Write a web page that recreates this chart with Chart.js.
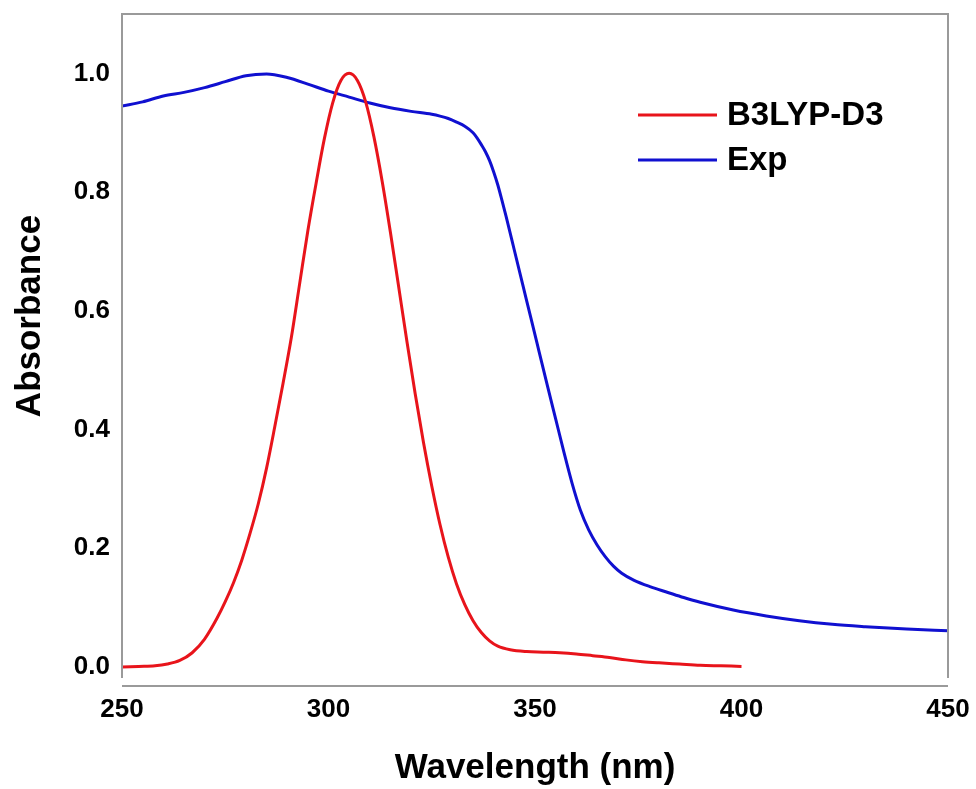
<!DOCTYPE html>
<html>
<head>
<meta charset="utf-8">
<script src="https://cdn.jsdelivr.net/npm/chart.js@4.4.1/dist/chart.umd.min.js"></script>
<style>
  html, body { margin: 0; padding: 0; background: #ffffff; }
  #wrap { width: 976px; height: 789px; }
</style>
</head>
<body>
<div id="wrap"><canvas id="chart" width="976" height="789"></canvas></div>
<script>
// data
const calcLabel = 'B3LYP-D3';
const calcX = [250, 254, 258, 261, 264, 267, 270, 273, 275, 277, 279, 281, 283, 285, 287, 289, 291, 293, 295, 297,
               299, 301, 303, 305, 307, 309, 311, 313, 315, 317, 319, 321, 323, 325, 327, 329, 331, 333, 335, 337,
               339, 341, 344, 348, 352, 356, 360, 364, 368, 372, 376, 380, 385, 390, 395, 400];
const calcY = [0.000, 0.001, 0.002, 0.005, 0.011, 0.024, 0.047, 0.082, 0.110, 0.142, 0.180, 0.225, 0.275, 0.335, 0.405, 0.478, 0.555, 0.645, 0.735, 0.815,
               0.890, 0.950, 0.988, 1.000, 0.988, 0.952, 0.893, 0.818, 0.732, 0.640, 0.548, 0.460, 0.378, 0.305, 0.240, 0.185, 0.140, 0.105, 0.078, 0.058,
               0.044, 0.035, 0.029, 0.026, 0.025, 0.024, 0.022, 0.019, 0.016, 0.012, 0.009, 0.007, 0.005, 0.003, 0.002, 0.001];

const expLabel = 'Exp';
const expX = [250, 255, 260, 265, 270, 275, 280, 285, 290, 295, 300, 305, 310, 315, 320, 325, 327, 329, 331, 333,
              335, 336, 337, 338, 339, 340, 341, 342, 343, 345, 347, 349, 351, 353, 355, 357, 359, 361, 363, 365,
              367, 369, 371, 374, 378, 382, 386, 390, 398, 406, 414, 422, 430, 440, 450];
const expY = [0.945, 0.952, 0.962, 0.968, 0.976, 0.986, 0.996, 0.999, 0.993, 0.982, 0.970, 0.960, 0.950, 0.942, 0.936, 0.931, 0.928, 0.924, 0.918, 0.911,
              0.900, 0.891, 0.880, 0.868, 0.853, 0.834, 0.812, 0.786, 0.759, 0.702, 0.645, 0.588, 0.531, 0.474, 0.418, 0.362, 0.309, 0.264, 0.231, 0.206,
              0.186, 0.170, 0.158, 0.146, 0.135, 0.126, 0.117, 0.109, 0.096, 0.086, 0.078, 0.072, 0.068, 0.064, 0.061];

const xTicks = [250, 300, 350, 400, 450];
const yTicks = [0.0, 0.2, 0.4, 0.6, 0.8, 1.0];

const FONT = 'Arial, "Liberation Sans", sans-serif';

function toPoints(xs, ys) {
    return xs.map((x, i) => ({ x: x, y: ys[i] }));
}

// frame around the plot, y title and legend
const framePlugin = {
    id: 'frame',
    afterDraw(chart) {
        const { ctx, chartArea: a } = chart;
        ctx.save();
        ctx.strokeStyle = '#9a9a9a';
        ctx.lineWidth = 2;
        ctx.beginPath();
        ctx.moveTo(a.left, a.bottom - 8);
        ctx.lineTo(a.left, a.top);
        ctx.lineTo(a.right, a.top);
        ctx.lineTo(a.right, a.bottom - 8);
        ctx.stroke();
        ctx.beginPath();
        ctx.moveTo(a.left, a.bottom);
        ctx.lineTo(a.right, a.bottom);
        ctx.stroke();

        // y axis title
        ctx.save();
        ctx.translate(30, 316);
        ctx.rotate(-Math.PI / 2);
        ctx.font = 'bold 35px ' + FONT;
        ctx.fillStyle = '#000000';
        ctx.textAlign = 'center';
        ctx.textBaseline = 'middle';
        ctx.fillText('Absorbance', 0, 0);
        ctx.restore();

        // legend
        ctx.font = 'bold 33px ' + FONT;
        ctx.textBaseline = 'middle';
        ctx.fillStyle = '#000000';
        chart.data.datasets.forEach((ds, i) => {
            const y = 115 + i * 45;
            ctx.strokeStyle = ds.borderColor;
            ctx.lineWidth = 3;
            ctx.beginPath();
            ctx.moveTo(638, y);
            ctx.lineTo(717, y);
            ctx.stroke();
            ctx.fillText(ds.label, 727, y + 1);
        });
        ctx.restore();
    }
};

const ctx = document.getElementById('chart').getContext('2d');
new Chart(ctx, {
    type: 'line',
    data: {
        datasets: [
            {
                label: calcLabel,
                data: toPoints(calcX, calcY),
                borderColor: '#e8141b',
                borderWidth: 3,
                pointRadius: 0,
                cubicInterpolationMode: 'monotone',
                fill: false
            },
            {
                label: expLabel,
                data: toPoints(expX, expY),
                borderColor: '#1010d0',
                borderWidth: 3,
                pointRadius: 0,
                cubicInterpolationMode: 'monotone',
                fill: false
            }
        ]
    },
    options: {
        responsive: false,
        animation: false,
        layout: { padding: { left: 0, right: 28, top: 14, bottom: 0 } },
        plugins: {
            legend: { display: false },
            tooltip: { enabled: false }
        },
        scales: {
            x: {
                type: 'linear',
                min: 250,
                max: 450,
                border: { display: false },
                grid: { display: false, drawTicks: false },
                afterBuildTicks: (scale) => { scale.ticks = xTicks.map(v => ({ value: v })); },
                afterFit: (scale) => {
                    scale.height = 103;
                    scale.paddingLeft = 0;
                    scale.paddingRight = 0;
                },
                ticks: {
                    padding: 8,
                    color: '#000000',
                    maxRotation: 0,
                    font: { family: FONT, size: 26, weight: 'bold' },
                    callback: (v) => v
                },
                title: {
                    display: true,
                    text: 'Wavelength (nm)',
                    color: '#000000',
                    padding: { top: 0, bottom: 0 },
                    font: { family: FONT, size: 35, weight: 'bold' }
                }
            },
            y: {
                min: -0.032,
                max: 1.1,
                border: { display: false },
                grid: { display: false, drawTicks: false },
                afterBuildTicks: (scale) => { scale.ticks = yTicks.map(v => ({ value: v })); },
                afterFit: (scale) => {
                    scale.width = 122;
                    scale.paddingTop = 0;
                    scale.paddingBottom = 0;
                },
                ticks: {
                    padding: 12,
                    color: '#000000',
                    font: { family: FONT, size: 26, weight: 'bold' },
                    callback: (v) => Number(v).toFixed(1)
                }
            }
        }
    },
    plugins: [framePlugin]
});
</script>
</body>
</html>
